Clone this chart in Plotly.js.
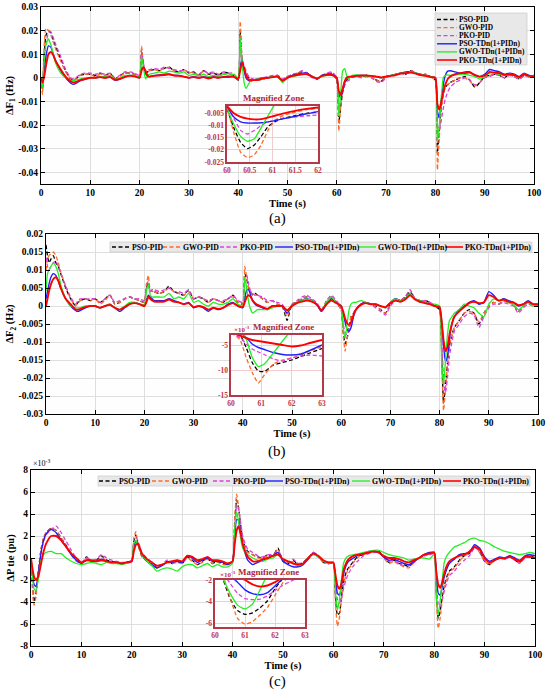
<!DOCTYPE html>
<html>
<head>
<meta charset="utf-8">
<script src="https://cdn.plot.ly/plotly-3.0.1.min.js"></script>
<style>
html,body{margin:0;padding:0;background:#fff;}
#chart{width:550px;height:691px;}
</style>
</head>
<body>
<div id="chart"></div>
<script>
// ---------------- DATA ----------------
const seriesNames = ['PSO-PID','GWO-PID','PKO-PID','PSO-TDn(1+PIDn)','GWO-TDn(1+PIDn)','PKO-TDn(1+PIDn)'];

const time = [
  0, 0.3, 0.6, 1, 1.5, 2, 2.5, 3,
  4, 5, 6, 6.5, 7, 8, 9,
  10, 11, 12, 13, 14, 15, 16, 17, 18, 19,
  20, 20.4, 20.8, 21.2, 21.6, 22,
  23, 24, 25, 26, 27, 28, 29, 30, 31, 32, 33, 34, 35, 36, 37, 38, 39,
  40, 40.4, 40.8, 41.2, 41.6, 42, 42.5, 43,
  44, 45, 46, 47, 48, 49, 50, 51, 52, 53, 54, 55, 56, 57, 58, 59,
  60, 60.4, 60.8, 61.2, 61.6, 62, 62.5, 63,
  64, 65, 66, 67, 68, 69, 70, 71, 72, 73, 74, 75, 76, 77, 78, 79,
  80, 80.4, 80.8, 81.2, 81.6, 82, 82.5, 83,
  84, 85, 86, 87, 88, 89, 90, 91, 92, 93, 94, 95, 96, 97, 98, 99, 100
];

// ---- (a) delta F1 (Hz)
const dF1_PSO_PID = [
  0, -0.005, 0.008, 0.018, 0.020, 0.019, 0.016, 0.013,
  0.008, 0.003, -0.0005, -0.001, -0.0005, 0.001, 0.0015,
  0.0015, 0.001, 0.002, 0.001, 0.002, -0.0005, 0.001, 0.002, 0.002, 0.0015,
  0.0005, 0.012, 0.005, 0.002, 0.0025, 0.003,
  0.0035, 0.003, 0.004, 0.0045, 0.003, 0.0025, 0.0035, 0.002, 0.0025, 0.001, 0.003, 0.0015, 0.002, 0.001, 0.0025, 0.002, 0.001,
  -0.001, 0.020, 0.007, 0.004, 0.002, 0.0005, -0.0005, -0.001,
  -0.001, -0.0005, 0, 0.0005, 0.001, -0.001, 0.0005, 0.001, 0.002, 0.0025, 0.002, 0.0005, -0.0005, 0.001, 0.0015, 0.002,
  -0.001, -0.019, -0.012, -0.006, -0.003, -0.001, 0, 0.0005,
  0.001, 0.0005, 0.001, 0.0005, -0.001, -0.0015, 0.0005, 0.001, 0.0015, 0.002, 0.0015, 0.003, 0.002, 0.001, 0.0015, 0.0005,
  -0.001, -0.032, -0.022, -0.012, -0.007, -0.004, -0.003, -0.002,
  -0.001, 0, 0.0005, -0.001, -0.004, -0.002, 0.0005, 0.001, 0.0015, 0.001, 0, 0.0015, 0.0005, -0.0005, 0.001, 0.0005, 0.001
];
const dF1_GWO_PID = [
  0, -0.007, 0.012, 0.021, 0.020, 0.018, 0.015, 0.012,
  0.007, 0.0025, -0.0005, -0.001, -0.0005, 0.001, 0.0015,
  0.0015, 0.0005, 0.0015, 0.001, 0.0015, -0.0005, 0.0005, 0.002, 0.002, 0.0015,
  0.0005, 0.0135, 0.004, 0.0015, 0.002, 0.003,
  0.0035, 0.003, 0.004, 0.0045, 0.003, 0.0025, 0.0035, 0.002, 0.0025, 0.001, 0.003, 0.0015, 0.002, 0.001, 0.002, 0.0015, 0.001,
  -0.001, 0.024, 0.008, 0.004, 0.002, 0.0005, -0.0005, -0.001,
  -0.001, -0.0005, 0, 0.0005, 0.001, -0.001, 0.0005, 0.001, 0.002, 0.002, 0.002, 0.0005, -0.0005, 0.001, 0.0015, 0.002,
  -0.001, -0.0225, -0.012, -0.005, -0.002, -0.0005, 0, 0.0005,
  0.001, 0.0005, 0.001, 0.0005, -0.001, -0.0015, 0.0005, 0.001, 0.0015, 0.002, 0.0015, 0.003, 0.002, 0.001, 0.0015, 0.0005,
  -0.001, -0.039, -0.025, -0.013, -0.007, -0.004, -0.003, -0.002,
  -0.001, 0, 0, -0.0015, -0.0035, -0.002, 0, 0.001, 0.0015, 0.001, 0, 0.001, 0.0005, -0.0005, 0.001, 0.0005, 0.001
];
const dF1_PKO_PID = [
  0, -0.004, 0.005, 0.014, 0.019, 0.0195, 0.017, 0.014,
  0.009, 0.0035, 0, -0.0005, 0, 0.0015, 0.002,
  0.002, 0.0015, 0.002, 0.0015, 0.002, 0, 0.001, 0.0025, 0.0025, 0.002,
  0.001, 0.011, 0.006, 0.0025, 0.003, 0.0035,
  0.004, 0.0035, 0.0045, 0.004, 0.0035, 0.003, 0.003, 0.0025, 0.002, 0.0015, 0.003, 0.002, 0.0025, 0.0015, 0.0025, 0.002, 0.002,
  -0.0005, 0.017, 0.008, 0.005, 0.003, 0.001, 0, -0.0005,
  -0.001, 0, 0.0005, 0.001, 0.001, -0.0005, 0.0005, 0.0015, 0.002, 0.003, 0.002, 0, -0.0005, 0.001, 0.002, 0.0025,
  0, -0.013, -0.009, -0.005, -0.003, -0.0015, -0.001, 0,
  0.0005, 0, 0.0005, 0, -0.0015, -0.002, 0, 0.001, 0.0015, 0.002, 0.0015, 0.003, 0.002, 0.001, 0.001, 0.0005,
  -0.0005, -0.020, -0.022, -0.018, -0.013, -0.009, -0.006, -0.004,
  -0.002, -0.001, 0, -0.001, -0.003, -0.002, 0, 0.0005, 0.0015, 0.001, 0, 0.001, 0.0005, -0.0005, 0.001, 0.0005, 0.001
];
const dF1_PSO_TDn = [
  0, -0.003, 0.002, 0.009, 0.0135, 0.013, 0.010, 0.007,
  0.003, 0, -0.0022, -0.0028, -0.0025, -0.0012, -0.0005,
  0, 0, 0.0005, 0, 0.0005, -0.001, -0.0005, 0.0005, 0.001, 0.0008,
  0, 0.004, 0.0045, 0.002, 0.0005, 0.0005,
  0.001, 0.0012, 0.0015, 0.0015, 0.001, 0.001, 0.0005, 0, 0.0005, 0, 0.0005, 0, 0.0005, 0, 0.0005, 0.0005, 0.0005,
  -0.0005, 0.005, 0.0075, 0.003, 0, -0.001, -0.0015, -0.001,
  -0.0005, 0, 0, 0.0005, 0.0005, -0.0015, 0, 0.001, 0.0015, 0.002, 0.002, 0.0005, -0.0005, 0.001, 0.0015, 0.0015,
  0, -0.007, -0.0085, -0.005, -0.002, 0, 0.0005, 0.0005,
  0.001, 0.001, 0.001, 0.0008, 0.0005, 0, 0.0005, 0.001, 0.0015, 0.002, 0.0025, 0.0025, 0.002, 0.0015, 0.001, 0.0005,
  0, -0.014, -0.017, -0.010, -0.003, 0.001, 0.0028, 0.003,
  0.0025, 0.002, 0.0025, 0.0025, 0.001, 0.0005, 0.0015, 0.0035, 0.003, 0.0025, 0.0015, 0.002, 0.0015, 0.0005, 0.002, 0.001, 0.0005
];
const dF1_GWO_TDn = [
  0, -0.004, 0.006, 0.014, 0.0165, 0.014, 0.010, 0.006,
  0.002, 0, -0.001, -0.0012, -0.001, -0.0005, 0,
  0, 0, 0.0005, 0.0005, 0.001, -0.0005, 0, 0.001, 0.001, 0.001,
  0.0005, 0.009, 0.004, -0.0005, 0.001, 0.0015,
  0.002, 0.0025, 0.002, 0.0028, 0.0025, 0.002, 0.0025, 0.001, 0.0015, 0.0008, 0.0015, 0.0005, 0.001, 0.0005, 0.0015, 0.001, 0.0015,
  0, 0.017, 0.006, -0.002, -0.0045, -0.003, -0.0015, -0.001,
  -0.0005, 0, 0, 0.0005, 0.0005, -0.002, 0, 0.0005, 0.001, 0.0015, 0.0015, 0.0005, 0, 0.0005, 0.001, 0.001,
  0, -0.016, -0.006, 0.003, 0.0039, 0.001, -0.0005, 0.001,
  0.0012, 0.001, 0.0005, 0.0005, 0.0005, 0, 0.0005, 0.001, 0.0015, 0.002, 0.002, 0.0025, 0.002, 0.0015, 0.001, 0.0005,
  0, -0.027, -0.020, -0.008, 0, 0.001, 0.0012, 0.001,
  0.0012, 0.0015, 0.0015, 0.001, 0.0005, -0.0005, 0.0005, 0.002, 0.002, 0.0015, 0.001, 0.0015, 0.001, 0, 0.0015, 0.0005, 0.0005
];
const dF1_PKO_TDn = [
  0, -0.002, 0, 0.005, 0.010, 0.011, 0.0095, 0.007,
  0.0035, 0.0005, -0.0015, -0.002, -0.0018, -0.001, -0.0005,
  0, 0, 0.0003, 0, 0.0003, -0.0008, -0.0005, 0.0003, 0.0008, 0.0006,
  0, 0.003, 0.0045, 0.003, 0.001, 0.0005,
  0.0008, 0.001, 0.0012, 0.0015, 0.001, 0.0008, 0.0005, 0, 0.0003, 0, 0.0003, -0.0003, 0.0003, 0, 0.0003, 0.0003, 0.0005,
  -0.0005, 0.003, 0.0065, 0.004, 0.001, -0.0005, -0.001, -0.001,
  -0.0008, -0.0003, 0, 0.0003, 0.0005, -0.0012, 0, 0.0008, 0.0012, 0.0015, 0.0015, 0.0005, -0.0003, 0.0008, 0.0012, 0.0012,
  0, -0.0055, -0.0072, -0.0045, -0.0015, 0, 0.0005, 0.0005,
  0.0008, 0.001, 0.001, 0.0008, 0.0005, 0.0002, 0.0005, 0.0008, 0.0012, 0.0018, 0.002, 0.0022, 0.0018, 0.0012, 0.0008, 0.0003,
  0, -0.011, -0.0135, -0.010, -0.006, -0.003, -0.0005, 0.0005,
  0.0015, 0.002, 0.002, 0.0022, 0.0012, 0.0005, 0.001, 0.0025, 0.0022, 0.002, 0.0012, 0.0015, 0.0012, 0.0003, 0.0015, 0.0008, 0.0005
];

// ---- (b) delta F2 (Hz)
const dF2_PSO_PID = [
  0.017, 0.014, 0.012, 0.013, 0.014, 0.012, 0.011, 0.009,
  0.005, 0.002, 0, 0.001, 0.0015, 0.002, 0.0015,
  0.002, 0.001, 0.002, 0.003, 0.0005, 0.001, 0.002, 0.0025, 0.002, 0.0015,
  0.001, 0.005, 0.0065, 0.004, 0.0045, 0.004,
  0.0035, 0.004, 0.0055, 0.004, 0.0035, 0.003, 0.0045, 0.002, 0.0025, 0.002, 0.001, 0.002, 0.0015, 0.001, 0.002, 0.003, 0.001,
  0.0005, 0.009, 0.0075, 0.005, 0.004, 0.003, 0.0035, 0.003,
  0.002, 0.001, 0.0015, 0.0005, 0, -0.004, 0.0005, 0.001, 0.002, 0.0025, 0.0015, 0.0005, -0.0015, 0.001, 0.0025, 0.001,
  -0.001, -0.007, -0.0105, -0.009, -0.006, -0.003, -0.002, -0.001,
  0.0005, 0.001, 0.0005, 0, -0.001, -0.002, 0.0005, 0.002, 0.0015, 0.0025, 0.004, 0.002, 0.001, 0.0015, 0.001, 0,
  -0.001, -0.012, -0.027, -0.022, -0.016, -0.011, -0.008, -0.006,
  -0.004, -0.002, -0.001, -0.002, -0.005, -0.002, 0, 0.001, 0.0005, 0.0015, 0.001, 0.0005, -0.0015, 0, 0.001, 0.0005, 0
];
const dF2_GWO_PID = [
  0.010, 0.013, 0.014, 0.0145, 0.015, 0.014, 0.012, 0.0095,
  0.0055, 0.002, 0, 0.001, 0.0015, 0.002, 0.0015,
  0.002, 0.0005, 0.0015, 0.003, 0.0005, 0.001, 0.002, 0.0025, 0.002, 0.0015,
  0.001, 0.006, 0.0085, 0.004, 0.0045, 0.004,
  0.0035, 0.004, 0.005, 0.004, 0.0035, 0.003, 0.004, 0.002, 0.0025, 0.002, 0.001, 0.002, 0.0015, 0.001, 0.002, 0.0025, 0.001,
  0.0005, 0.011, 0.008, 0.005, 0.004, 0.003, 0.003, 0.003,
  0.002, 0.001, 0.0015, 0.0005, 0, -0.003, 0.0005, 0.001, 0.002, 0.0025, 0.0015, 0.0005, -0.0015, 0.001, 0.0025, 0.001,
  -0.001, -0.008, -0.0125, -0.009, -0.006, -0.003, -0.002, -0.001,
  0.0005, 0.001, 0.0005, 0, -0.001, -0.002, 0.0005, 0.002, 0.0015, 0.0025, 0.0045, 0.002, 0.001, 0.0015, 0.001, 0,
  -0.001, -0.013, -0.029, -0.023, -0.016, -0.011, -0.008, -0.006,
  -0.004, -0.002, -0.0015, -0.002, -0.0045, -0.002, 0, 0.001, 0.0005, 0.0015, 0.001, 0.0005, -0.0015, 0, 0.001, 0.0005, 0
];
const dF2_PKO_PID = [
  0.0135, 0.011, 0.010, 0.011, 0.012, 0.0125, 0.011, 0.009,
  0.0055, 0.0025, 0.0005, 0.0015, 0.002, 0.002, 0.002,
  0.002, 0.001, 0.002, 0.003, 0.001, 0.0015, 0.002, 0.0025, 0.002, 0.002,
  0.0015, 0.005, 0.007, 0.0045, 0.004, 0.0045,
  0.004, 0.0045, 0.005, 0.004, 0.004, 0.0035, 0.0045, 0.002, 0.0025, 0.002, 0.0015, 0.002, 0.0015, 0.0015, 0.002, 0.003, 0.0015,
  0.001, 0.008, 0.0085, 0.006, 0.004, 0.0035, 0.003, 0.003,
  0.0025, 0.0015, 0.0015, 0.001, 0.0005, -0.002, 0.0005, 0.0015, 0.0025, 0.003, 0.002, 0.001, -0.001, 0.0015, 0.003, 0.0015,
  -0.0005, -0.005, -0.0075, -0.008, -0.007, -0.004, -0.002, -0.001,
  0.0005, 0.001, 0.0005, -0.0005, -0.0015, -0.0025, 0, 0.0015, 0.0015, 0.0025, 0.0045, 0.002, 0.0015, 0.0015, 0.001, 0,
  -0.0005, -0.008, -0.020, -0.024, -0.020, -0.014, -0.010, -0.007,
  -0.005, -0.003, -0.002, -0.0025, -0.006, -0.003, -0.0005, 0.0005, 0.0005, 0.001, 0.0005, 0, -0.002, -0.0005, 0.0005, 0, 0
];
const dF2_PSO_TDn = [
  0.002, 0.004, 0.006, 0.008, 0.009, 0.0085, 0.007, 0.005,
  0.002, 0, -0.0012, -0.0015, -0.0012, -0.0005, 0,
  0, -0.0005, 0, 0.0005, -0.0005, -0.0015, -0.0005, 0.0005, 0.001, 0.0005,
  0, 0.0015, 0.003, 0.0025, 0.002, 0.0015,
  0.0015, 0.0015, 0.002, 0.0015, 0.001, 0.0005, 0.001, -0.0005, 0, -0.0005, -0.0015, -0.0005, -0.001, -0.0005, 0.0005, 0.001, 0,
  -0.0005, 0.002, 0.0045, 0.0045, 0.003, 0.0015, 0.0005, 0,
  -0.0005, -0.001, 0, 0, 0, -0.002, 0, 0.001, 0.0015, 0.002, 0.0015, 0.0005, -0.0015, 0.0005, 0.002, 0.001,
  0, -0.002, -0.0045, -0.0065, -0.007, -0.006, -0.003, -0.001,
  0.0005, 0.001, 0.0005, 0.0005, 0, -0.0005, 0.001, 0.002, 0.0015, 0.002, 0.0035, 0.002, 0.0015, 0.001, 0.0005, 0,
  -0.0005, -0.004, -0.011, -0.0155, -0.014, -0.009, -0.005, -0.003,
  -0.001, 0, 0.001, 0.0015, 0.0005, 0.001, 0.004, 0.003, 0.0015, 0.002, 0.0015, 0.001, 0, 0.0005, 0.0015, 0.0005, 0.0005
];
const dF2_GWO_TDn = [
  0.004, 0.009, 0.010, 0.011, 0.012, 0.011, 0.009, 0.006,
  0.002, 0, -0.0005, -0.0005, -0.0005, 0, 0,
  0, -0.0005, 0, 0.0005, -0.0005, -0.001, 0, 0.001, 0.001, 0.0005,
  0.0005, 0.004, 0.006, 0.003, 0.0025, 0.0025,
  0.0025, 0.0025, 0.0035, 0.002, 0.0025, 0.002, 0.0035, 0.001, 0.0015, 0.0005, 0, 0.001, 0.0005, 0.0005, 0.001, 0.002, 0.0005,
  0, 0.008, 0.005, 0.001, -0.001, -0.002, -0.0015, -0.001,
  -0.001, -0.001, -0.0005, 0, 0, -0.0015, 0, 0.001, 0.0015, 0.002, 0.0015, 0.0005, -0.001, 0.001, 0.0025, 0.001,
  0, -0.006, -0.009, -0.005, -0.001, 0.0005, 0.001, 0.001,
  0.0015, 0.001, 0.0005, 0.0005, 0, -0.0005, 0.001, 0.002, 0.0015, 0.002, 0.0035, 0.002, 0.0015, 0.001, 0.0005, 0.0005,
  0, -0.015, -0.022, -0.015, -0.008, -0.004, -0.003, -0.002,
  -0.001, 0.0005, 0, -0.0005, -0.002, -0.003, 0.0005, 0.002, 0.0015, 0.0015, 0.001, 0.0005, -0.001, 0, 0.001, 0, 0.0005
];
const dF2_PKO_TDn = [
  0, 0.002, 0.004, 0.006, 0.0075, 0.008, 0.007, 0.005,
  0.002, 0.0005, -0.001, -0.001, -0.0008, -0.0003, 0,
  0, -0.0005, 0, 0.0003, -0.0005, -0.001, -0.0003, 0.0005, 0.0008, 0.0005,
  0, 0.001, 0.0025, 0.002, 0.0015, 0.0012,
  0.0012, 0.0012, 0.0018, 0.0012, 0.001, 0.0005, 0.0008, -0.0003, 0, -0.0003, -0.001, -0.0005, -0.0008, -0.0005, 0.0003, 0.0008, 0,
  -0.0003, 0.001, 0.0025, 0.003, 0.0025, 0.0015, 0.0008, 0.0003,
  -0.0003, -0.0008, 0, 0, 0, -0.0012, 0, 0.0008, 0.0012, 0.0015, 0.0012, 0.0005, -0.0012, 0.0005, 0.0015, 0.0008,
  0, -0.0015, -0.0035, -0.0048, -0.0052, -0.0045, -0.0025, -0.001,
  0.0003, 0.0008, 0.0005, 0.0005, 0, -0.0003, 0.0008, 0.0015, 0.0012, 0.0018, 0.003, 0.0018, 0.0012, 0.0008, 0.0005, 0,
  -0.0003, -0.004, -0.0095, -0.0125, -0.0115, -0.008, -0.005, -0.003,
  -0.0015, -0.0003, 0.0008, 0.0012, 0.0008, 0.001, 0.003, 0.0025, 0.0015, 0.0018, 0.0012, 0.001, 0.0002, 0.0005, 0.0012, 0.0005, 0.0005
];

// ---- (c) delta P tie (x 10^-3 pu)
const dPtie_PSO_PID = [
  0, -2.5, -4, -3.2, -1, 0.8, 1.8, 2.3,
  2.7, 2.5, 1.8, 1.5, 1.1, 0.4, -0.2,
  -0.5, 0.1, -0.3, -0.2, 0.2, -0.2, -0.3, -0.4, -0.5, -0.4,
  -0.2, 1.5, 2.1, 1.3, 0.7, 0.2,
  -0.3, -0.6, -0.9, -0.6, -0.3, -0.5, -0.3, -0.5, 0.1, -0.2, -0.6, -0.3, 0, -0.5, -0.3, -0.5, -0.6,
  -0.3, 3, 5.3, 4.5, 3, 1.7, 1, 0.6,
  0.3, 0.1, 0, 0.3, 0.2, 0.9, -0.3, -0.5, -0.2, -0.6, -0.4, 0, 0.5, 0.2, -0.4, -0.5,
  -0.5, -3.5, -5.2, -5, -3.5, -2.3, -1.3, -0.9,
  -0.3, 0.2, 0.3, 0.5, 0.6, 0.6, 0.1, -0.4, -0.2, -0.5, -0.6, -0.8, -0.3, 0, 0.3, 0.4,
  0.5, -3, -5.5, -4.8, -3.5, -2.5, -1.7, -1.2,
  -0.8, -0.2, 0.2, 0.4, 1.1, 0.6, -0.3, -0.6, -0.2, 0, -0.1, 0.2, -0.2, -0.4, 0.1, 0.2, 0
];
const dPtie_GWO_PID = [
  0, -3, -4.3, -3.5, -1.2, 0.8, 1.8, 2.3,
  2.7, 2.5, 1.8, 1.5, 1, 0.3, -0.3,
  -0.5, 0, -0.3, -0.3, 0.1, -0.3, -0.4, -0.4, -0.5, -0.4,
  -0.2, 1.8, 2.4, 1.3, 0.6, 0.1,
  -0.3, -0.7, -0.9, -0.6, -0.4, -0.5, -0.4, -0.5, 0, -0.3, -0.6, -0.4, -0.1, -0.5, -0.4, -0.6, -0.6,
  -0.3, 3.5, 5.8, 4.6, 3, 1.6, 0.9, 0.5,
  0.3, 0, 0, 0.2, 0.2, 0.8, -0.3, -0.5, -0.3, -0.6, -0.5, -0.1, 0.5, 0.1, -0.4, -0.5,
  -0.5, -4, -6.2, -5.4, -3.8, -2.5, -1.5, -1,
  -0.4, 0.1, 0.3, 0.5, 0.6, 0.5, 0, -0.5, -0.3, -0.6, -0.8, -0.9, -0.4, 0, 0.3, 0.4,
  0.5, -3.5, -6.4, -5.4, -3.8, -2.7, -1.9, -1.3,
  -0.9, -0.3, 0.2, 0.4, 1, 0.5, -0.3, -0.6, -0.2, 0, -0.1, 0.2, -0.2, -0.4, 0.1, 0.2, 0
];
const dPtie_PKO_PID = [
  0, -2, -3.3, -3, -1.3, 0.5, 1.5, 2.1,
  2.6, 2.9, 2.3, 1.9, 1.5, 0.7, 0,
  -0.4, 0, -0.2, -0.1, 0.3, 0, -0.2, -0.3, -0.4, -0.4,
  -0.2, 1.2, 1.8, 1.6, 1, 0.5,
  0, -0.4, -0.7, -0.6, -0.2, -0.4, -0.2, -0.4, 0.2, -0.1, -0.4, -0.2, 0.1, -0.3, -0.2, -0.4, -0.5,
  -0.3, 2.2, 4.7, 4.4, 3.2, 2, 1.3, 0.8,
  0.5, 0.2, 0.1, 0.3, 0.3, 0.6, -0.2, -0.4, -0.1, -0.5, -0.4, 0, 0.5, 0.2, -0.3, -0.5,
  -0.5, -2.5, -3.8, -4.1, -3.7, -2.8, -2, -1.4,
  -0.7, -0.2, 0.2, 0.4, 0.5, 0.5, 0.1, -0.3, -0.2, -0.5, -0.7, -0.7, -0.4, 0, 0.2, 0.3,
  0.4, -2, -4.2, -4.4, -3.8, -3, -2.2, -1.6,
  -1.2, -0.6, -0.2, 0.2, 0.9, 0.7, -0.2, -0.5, -0.2, 0, -0.1, 0.1, -0.2, -0.5, 0, 0.1, 0
];
const dPtie_PSO_TDn = [
  0, -1.5, -2.4, -2.6, -1.3, 0.5, 1.6, 2.2,
  2.6, 2.3, 1.6, 1.3, 1, 0.3, -0.2,
  -0.5, -0.2, -0.3, -0.3, -0.1, -0.3, -0.4, -0.4, -0.5, -0.4,
  -0.3, 1, 1.5, 1.3, 0.8, 0.3,
  -0.3, -0.6, -0.9, -0.7, -0.4, -0.4, -0.3, -0.4, 0.2, 0, -0.4, -0.2, 0, -0.3, -0.3, -0.4, -0.6,
  -0.3, 1.8, 3.5, 3.4, 2.3, 1.2, 0.4, -0.2,
  -0.6, -0.4, -0.2, 0, 0.2, 0.5, -0.3, -0.6, -0.8, -0.8, -0.6, -0.1, 0.4, 0.1, -0.3, -0.4,
  -0.5, -1.8, -3.2, -3.4, -2.6, -1.5, -0.7, -0.3,
  0, 0.3, 0.4, 0.6, 0.6, 0.5, 0.1, -0.2, -0.1, -0.3, -0.5, -0.6, -0.3, 0, 0.3, 0.5,
  0.5, -1.6, -3.2, -3.4, -2.6, -1.7, -1, -0.5,
  -0.1, 0.3, 0.4, 0.5, 1.2, 0.9, 0.1, -0.3, -0.1, 0.1, 0, 0.2, 0, -0.2, 0.2, 0.3, 0.2
];
const dPtie_GWO_TDn = [
  0, -1.8, -2.8, -3, -1.8, -0.2, 0.3, 0.5,
  0.6, 0.4, 0.4, 0.2, 0, -0.3, -0.5,
  -0.6, -0.5, -0.4, -0.5, -0.6, -0.4, -0.5, -0.5, -0.6, -0.5,
  -0.3, 1.3, 1.6, 1.2, 0.8, 0.3,
  -0.3, -0.7, -1.2, -1, -0.9, -1, -1.2, -0.8, -0.6, -0.6, -0.9, -0.7, -0.5, -0.8, -0.6, -0.8, -0.8,
  -0.5, 2.5, 4.2, 3.3, 1.8, 0.9, 0.5, 0.3,
  0, -0.2, -0.3, -0.1, 0, 0.3, -0.1, -0.3, -0.5, -0.7, -0.5, 0, 0.3, 0.1, -0.3, -0.4,
  -0.5, -3, -4.7, -3.8, -2, -0.5, 0, 0.2,
  0.3, 0.4, 0.5, 0.6, 0.7, 0.7, 0.5, 0.3, 0.2, 0.1, 0, -0.2, -0.1, 0, 0, -0.1,
  0.3, -3.3, -5.2, -3.8, -2, -0.4, 0.2, 0.5,
  1, 1.2, 1.4, 1.7, 1.8, 1.6, 1.5, 1.3, 1, 0.8, 0.6, 0.5, 0.4, 0.3, 0.4, 0.5, 0.4
];
const dPtie_PKO_TDn = [
  0, -1, -1.7, -2, -1.6, -0.5, 0.6, 1.3,
  2, 2, 1.6, 1.3, 1, 0.4, 0,
  -0.4, -0.2, -0.2, -0.3, -0.2, -0.3, -0.4, -0.4, -0.5, -0.4,
  -0.3, 0.6, 1.2, 1.3, 0.9, 0.4,
  -0.1, -0.4, -0.7, -0.6, -0.4, -0.3, -0.2, -0.3, 0.2, 0.1, -0.2, -0.1, 0.1, -0.2, -0.2, -0.3, -0.5,
  -0.3, 1.2, 2.5, 2.9, 2.2, 1.3, 0.6, 0.1,
  -0.3, -0.3, -0.1, 0, 0.2, 0.3, -0.1, -0.3, -0.5, -0.6, -0.5, 0, 0.4, 0.2, -0.2, -0.4,
  -0.4, -1.5, -2.5, -2.8, -2.3, -1.2, -0.5, -0.1,
  0.2, 0.3, 0.4, 0.5, 0.6, 0.5, 0.2, 0, 0, -0.1, -0.3, -0.4, -0.2, 0, 0.3, 0.4,
  0.5, -1.2, -2.4, -2.7, -2.2, -1.4, -0.7, -0.3,
  0, 0.2, 0.3, 0.6, 1, 0.8, 0, -0.4, -0.2, 0, 0, 0.1, -0.1, -0.3, 0.1, 0.1, 0
];

// ---- Magnified zones
const zoomA_time = [60, 60.15, 60.3, 60.45, 60.6, 60.75, 60.9, 61.05, 61.25, 61.5, 61.75, 62];
const zoomA_PSO_PID = [-0.003, -0.011, -0.017, -0.0195, -0.018, -0.0145, -0.0105, -0.0085, -0.007, -0.006, -0.005, -0.0045];
const zoomA_GWO_PID = [-0.002, -0.013, -0.021, -0.0232, -0.022, -0.018, -0.012, -0.008, -0.0058, -0.0045, -0.0035, -0.003];
const zoomA_PKO_PID = [-0.0025, -0.007, -0.012, -0.0135, -0.012, -0.010, -0.0085, -0.0078, -0.007, -0.0065, -0.006, -0.0057];
const zoomA_PSO_TDn = [-0.0022, -0.0065, -0.0085, -0.009, -0.009, -0.0089, -0.0085, -0.008, -0.0072, -0.0062, -0.0052, -0.0043];
const zoomA_GWO_TDn = [-0.003, -0.0095, -0.0145, -0.0165, -0.0155, -0.011, -0.006, -0.0015, 0.002, 0.004, 0.0035, 0.001];
const zoomA_PKO_TDn = [-0.002, -0.005, -0.0065, -0.0072, -0.0075, -0.0074, -0.0068, -0.006, -0.005, -0.004, -0.0032, -0.0026];

const zoomB_time = [60, 60.3, 60.5, 60.7, 60.9, 61.1, 61.4, 61.7, 62, 62.3, 62.6, 63];
const zoomB_PSO_PID = [-2, -3, -5.5, -8.5, -10.2, -10.3, -9, -8.5, -8, -7.3, -6.6, -5.7];
const zoomB_GWO_PID = [-2.5, -4, -7.5, -10.5, -12.6, -11, -8.8, -8, -7.6, -7, -6.2, -5.3];
const zoomB_PKO_PID = [-2.5, -3.5, -4.8, -5.8, -6.4, -6.9, -7.8, -8.2, -7.6, -7.2, -7, -7.2];
const zoomB_PSO_TDn = [-2, -2.5, -3.5, -4.8, -5.5, -5.9, -6.5, -6.9, -7, -6.8, -6.1, -5];
const zoomB_GWO_TDn = [-1, -2, -3.8, -7.5, -9.3, -8.8, -6.6, -4.2, -2, 0, 0.5, 0.5];
const zoomB_PKO_TDn = [-2.5, -3.1, -3.6, -4, -4.2, -4.4, -4.7, -5, -5.3, -5.1, -4.6, -4];

const zoomC_time = [60, 60.25, 60.5, 60.75, 61, 61.25, 61.5, 61.75, 62, 62.25, 62.5, 63];
const zoomC_PSO_PID = [-0.5, -1.8, -3.7, -4.8, -5.15, -5, -4.55, -3.9, -2.8, -1.9, -1.2, -0.3];
const zoomC_GWO_PID = [-0.5, -1.5, -3.6, -5.5, -6.05, -5.8, -5.2, -4.5, -3.4, -2.3, -1.5, -0.5];
const zoomC_PKO_PID = [-0.5, -1.3, -2.3, -3.2, -3.7, -3.8, -3.75, -3.45, -2.95, -2.5, -2.15, -1.5];
const zoomC_PSO_TDn = [-0.5, -1, -1.6, -2.2, -2.9, -3.25, -3.35, -3.15, -2.55, -1.9, -1.2, -0.3];
const zoomC_GWO_TDn = [-0.5, -1.8, -3.2, -4.3, -4.65, -4.2, -2.9, -1.5, -0.5, 0, 0.2, 0.2];
const zoomC_PKO_TDn = [-0.5, -0.8, -1.3, -1.7, -2, -2.4, -2.6, -2.5, -2.2, -1.8, -1.3, -0.5];

// ---- tick labels
const timeTicks = [0, 10, 20, 30, 40, 50, 60, 70, 80, 90, 100];
const timeTickText = ['0','10','20','30','40','50','60','70','80','90','100'];
const dF1Ticks = [-0.04, -0.03, -0.02, -0.01, 0, 0.01, 0.02, 0.03];
const dF1TickText = ['-0.04','-0.03','-0.02','-0.01','0','0.01','0.02','0.03'];
const dF2Ticks = [-0.03, -0.025, -0.02, -0.015, -0.01, -0.005, 0, 0.005, 0.01, 0.015, 0.02];
const dF2TickText = ['-0.03','-0.025','-0.02','-0.015','-0.01','-0.005','0','0.005','0.01','0.015','0.02'];
const dPTicks = [-8, -6, -4, -2, 0, 2, 4, 6, 8];
const dPTickText = ['-8','-6','-4','-2','0','2','4','6','8'];
const zoomATicksX = [60, 60.5, 61, 61.5, 62];
const zoomATickTextX = ['60','60.5','61','61.5','62'];
const zoomATicksY = [-0.025, -0.02, -0.015, -0.01, -0.005];
const zoomATickTextY = ['-0.025','-0.02','-0.015','-0.01','-0.005'];
const zoomBCTicksX = [60, 61, 62, 63];
const zoomBCTickTextX = ['60','61','62','63'];
const zoomBTicksY = [-15, -10, -5];
const zoomBTickTextY = ['-15','-10','-5'];
const zoomCTicksY = [-6, -4, -2];
const zoomCTickTextY = ['-6','-4','-2'];

// ---------------- STYLE ----------------
const SERIF = 'Liberation Serif, Times New Roman, serif';
const seriesColors = ['#000000', '#ff6a26', '#dd3fdd', '#1f1fff', '#22ee22', '#ff0000'];
const seriesDash = ['4px,2.5px', '4px,2.5px', '4px,2.5px', 'solid', 'solid', 'solid'];
const seriesWidth = [1.3, 1.3, 1.3, 1.4, 1.3, 1.9];
const W = 550, H = 691;
const PX = v => v / W;
const PY = v => 1 - v / H;

const data = [];
function addSeries(times, arrays, xa, ya) {
  arrays.forEach((vals, i) => {
    data.push({
      type: 'scatter', mode: 'lines', x: times, y: vals, xaxis: xa, yaxis: ya,
      name: seriesNames[i], showlegend: false, hoverinfo: 'skip',
      line: {color: seriesColors[i], width: seriesWidth[i], dash: seriesDash[i], shape: 'spline', smoothing: 0.5}
    });
  });
}
addSeries(time, [dF1_PSO_PID, dF1_GWO_PID, dF1_PKO_PID, dF1_PSO_TDn, dF1_GWO_TDn, dF1_PKO_TDn], 'x', 'y');
addSeries(time, [dF2_PSO_PID, dF2_GWO_PID, dF2_PKO_PID, dF2_PSO_TDn, dF2_GWO_TDn, dF2_PKO_TDn], 'x2', 'y2');
addSeries(time, [dPtie_PSO_PID, dPtie_GWO_PID, dPtie_PKO_PID, dPtie_PSO_TDn, dPtie_GWO_TDn, dPtie_PKO_TDn], 'x3', 'y3');
addSeries(zoomA_time, [zoomA_PSO_PID, zoomA_GWO_PID, zoomA_PKO_PID, zoomA_PSO_TDn, zoomA_GWO_TDn, zoomA_PKO_TDn], 'x4', 'y4');
addSeries(zoomB_time, [zoomB_PSO_PID, zoomB_GWO_PID, zoomB_PKO_PID, zoomB_PSO_TDn, zoomB_GWO_TDn, zoomB_PKO_TDn], 'x5', 'y5');
addSeries(zoomC_time, [zoomC_PSO_PID, zoomC_GWO_PID, zoomC_PKO_PID, zoomC_PSO_TDn, zoomC_GWO_TDn, zoomC_PKO_TDn], 'x6', 'y6');

function mainAxis(extra) {
  return Object.assign({
    showline: true, linecolor: '#000', linewidth: 1, mirror: 'ticks',
    ticks: 'inside', ticklen: 4, tickwidth: 1, tickcolor: '#000',
    showgrid: true, gridcolor: '#dedede', gridwidth: 1, zeroline: false,
    fixedrange: true, autorange: false, tickmode: 'array', automargin: false,
    tickfont: {family: SERIF, size: 9.5, color: '#000', weight: 'bold'}
  }, extra);
}
function insetAxis(extra) {
  return Object.assign({
    showline: true, linecolor: '#b23a48', linewidth: 1.6, mirror: true,
    ticks: '', showgrid: true, gridcolor: '#f2ccd0', gridwidth: 1, zeroline: false,
    fixedrange: true, autorange: false, tickmode: 'array', automargin: false,
    tickfont: {family: SERIF, size: 7.5, color: '#c2334b', weight: 'bold'}
  }, extra);
}
const xTitle = {text: 'Time (s)', font: {family: SERIF, size: 10.5, color: '#000', weight: 'bold'}, standoff: 1};
const yTitleFont = {family: SERIF, size: 10.5, color: '#000', weight: 'bold'};

const layout = {
  width: W, height: H, margin: {l: 0, r: 0, t: 0, b: 0},
  paper_bgcolor: '#ffffff', plot_bgcolor: '#fefefe', showlegend: false,
  xaxis:  mainAxis({domain: [PX(41), PX(534)], anchor: 'y', range: [0, 100], tickvals: timeTicks, ticktext: timeTickText, title: xTitle}),
  yaxis:  mainAxis({domain: [PY(184), PY(7)], anchor: 'x', range: [-0.045, 0.03], tickvals: dF1Ticks, ticktext: dF1TickText,
                    title: {text: 'ΔF<sub>1</sub> (Hz)', font: yTitleFont, standoff: 2}}),
  xaxis2: mainAxis({domain: [PX(46), PX(538)], anchor: 'y2', range: [0, 100], tickvals: timeTicks, ticktext: timeTickText, title: xTitle}),
  yaxis2: mainAxis({domain: [PY(414), PY(234)], anchor: 'x2', range: [-0.03, 0.02], tickvals: dF2Ticks, ticktext: dF2TickText,
                    title: {text: 'ΔF<sub>2</sub> (Hz)', font: yTitleFont, standoff: 2}}),
  xaxis3: mainAxis({domain: [PX(31), PX(535)], anchor: 'y3', range: [0, 100], tickvals: timeTicks, ticktext: timeTickText, title: xTitle}),
  yaxis3: mainAxis({domain: [PY(646), PY(470)], anchor: 'x3', range: [-8, 8], tickvals: dPTicks, ticktext: dPTickText,
                    title: {text: 'ΔP tie (pu)', font: yTitleFont, standoff: 3}}),
  xaxis4: insetAxis({domain: [PX(227), PX(318)], anchor: 'y4', range: [60, 62], tickvals: zoomATicksX, ticktext: zoomATickTextX}),
  yaxis4: insetAxis({domain: [PY(162), PY(106)], anchor: 'x4', range: [-0.025, -0.002], tickvals: zoomATicksY, ticktext: zoomATickTextY}),
  xaxis5: insetAxis({domain: [PX(231), PX(322)], anchor: 'y5', range: [60, 63], tickvals: zoomBCTicksX, ticktext: zoomBCTickTextX}),
  yaxis5: insetAxis({domain: [PY(395), PY(335)], anchor: 'x5', range: [-15, -3], tickvals: zoomBTicksY, ticktext: zoomBTickTextY}),
  xaxis6: insetAxis({domain: [PX(215), PX(305)], anchor: 'y6', range: [60, 63], tickvals: zoomBCTicksX, ticktext: zoomBCTickTextX}),
  yaxis6: insetAxis({domain: [PY(627), PY(580)], anchor: 'x6', range: [-6.3, -2], tickvals: zoomCTicksY, ticktext: zoomCTickTextY}),
  shapes: [],
  annotations: []
};

// ---- annotations: captions, zone titles, exponents
const capFont = {family: SERIF, size: 15, color: '#000'};
[['(a)', 218], ['(b)', 452], ['(c)', 681]].forEach(([t, y]) => {
  layout.annotations.push({text: t, xref: 'paper', yref: 'paper', x: PX(277), y: PY(y), showarrow: false, xanchor: 'center', yanchor: 'middle', font: capFont});
});
const zoneFont = {family: SERIF, size: 9, color: '#a8283c', weight: 'bold'};
[[273, 105], [283, 334], [268, 579]].forEach(([x, y]) => {
  layout.annotations.push({text: 'Magnified Zone', xref: 'paper', yref: 'paper', x: PX(x), y: PY(y), showarrow: false, xanchor: 'center', yanchor: 'bottom', font: zoneFont});
});
const expFont = {family: SERIF, size: 7, color: '#c2334b', weight: 'bold'};
[[232, 336], [218, 581]].forEach(([x, y]) => {
  layout.annotations.push({text: '×10<sup>-3</sup>', xref: 'paper', yref: 'paper', x: PX(x), y: PY(y), showarrow: false, xanchor: 'left', yanchor: 'bottom', font: expFont});
});
layout.annotations.push({text: '×10<sup>-3</sup>', xref: 'paper', yref: 'paper', x: PX(31), y: PY(470), showarrow: false, xanchor: 'left', yanchor: 'bottom',
  font: {family: SERIF, size: 8, color: '#000'}});

// ---- legends (boxes with line keys and text)
function addLegend(box, keys, sampleLen, fontSize) {
  layout.shapes.push({type: 'rect', xref: 'paper', yref: 'paper', x0: PX(box[0]), x1: PX(box[1]), y0: PY(box[3]), y1: PY(box[2]),
    fillcolor: '#e8e8e8', line: {color: '#c4c4c4', width: 0.6}, layer: 'above'});
  keys.forEach(([kx, ky], i) => {
    layout.shapes.push({type: 'line', xref: 'paper', yref: 'paper', x0: PX(kx), x1: PX(kx + sampleLen), y0: PY(ky), y1: PY(ky),
      line: {color: seriesColors[i], width: Math.min(seriesWidth[i], 1.6), dash: seriesDash[i]}, layer: 'above'});
    layout.annotations.push({text: seriesNames[i], xref: 'paper', yref: 'paper', x: PX(kx + sampleLen + 1), y: PY(ky), showarrow: false,
      xanchor: 'left', yanchor: 'middle', borderpad: 0, font: {family: SERIF, size: fontSize, color: '#000', weight: 'bold'}});
  });
}
addLegend([435, 527, 13, 65], [[437, 19.5], [437, 27.6], [437, 35.7], [437, 43.8], [437, 51.9], [437, 60]], 20, 7.4);
addLegend([110, 532, 242, 252], [[112, 247], [163, 247], [220, 247], [275, 247], [358, 247], [445, 247]], 18, 7.8);
addLegend([98, 530, 476, 486], [[99, 481], [152, 481], [213, 481], [265, 481], [352, 481], [443, 481]], 18, 7.8);

Plotly.newPlot('chart', data, layout, {staticPlot: true, displayModeBar: false});
</script>
</body>
</html>
